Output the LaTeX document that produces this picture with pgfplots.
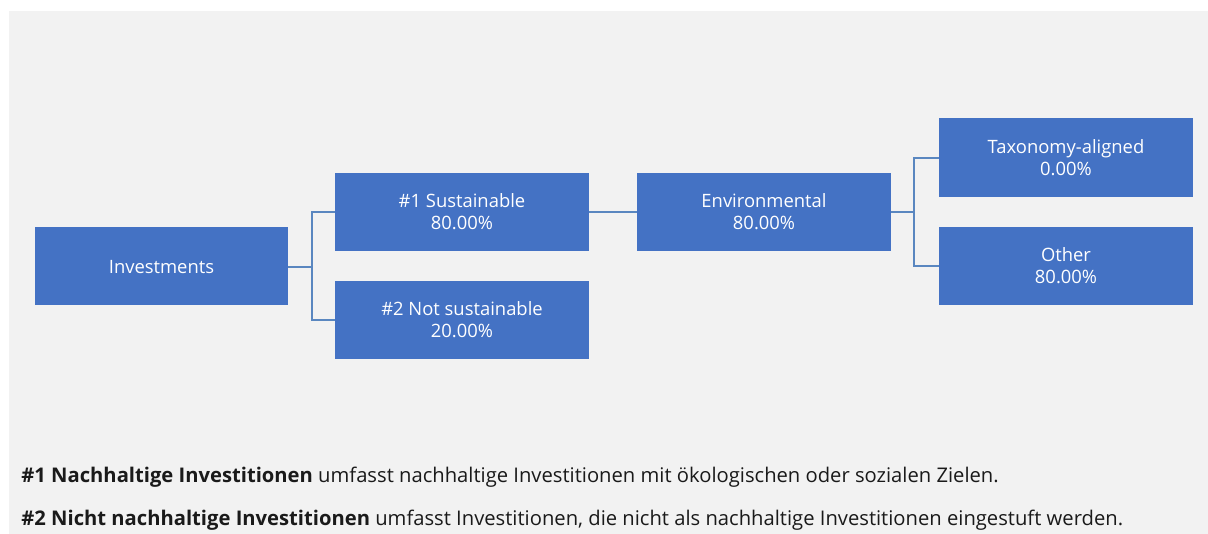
\documentclass[border=0pt]{standalone}
\usepackage{pgfplots}
\pgfplotsset{compat=1.18}
\usepackage{fontspec}
\setmainfont{Open Sans}
\definecolor{bg}{HTML}{F2F2F2}
\definecolor{boxc}{HTML}{4472C4}
\definecolor{linec}{HTML}{5A87C0}
\definecolor{txt}{HTML}{1A1A1A}
% box: x1 x2 y1 y2 (pixel rows from top)
\newcommand{\bx}[4]{\addplot[fill=boxc, draw=none] coordinates {(#1,#3) (#2,#3) (#2,#4) (#1,#4)} -- cycle;}
\newcommand{\lbl}[3]{\addplot[draw=none, mark=none, nodes near coords={#3},
  every node near coord/.append style={anchor=center, align=center, text=white,
  font=\fontsize{9.2pt}{11pt}\selectfont, inner sep=0pt}] coordinates {(#1,#2)};}
\begin{document}
\begin{tikzpicture}
\begin{axis}[
  scale only axis, width=604pt, height=267pt,
  xmin=0, xmax=1208, ymin=0, ymax=534, y dir=reverse,
  hide axis,
]
% full canvas (white margin)
\addplot[fill=white, draw=none] coordinates {(0,0) (1208,0) (1208,534) (0,534)} -- cycle;
% background
\addplot[fill=bg, draw=none] coordinates {(9,11) (1208,11) (1208,534) (9,534)} -- cycle;
% connectors
\addplot[linec, line width=1pt, mark=none] coordinates {(288,267) (312,267)};
\addplot[linec, line width=1pt, mark=none] coordinates {(335,212) (312,212) (312,320) (335,320)};
\addplot[linec, line width=1pt, mark=none] coordinates {(589,212) (637,212)};
\addplot[linec, line width=1pt, mark=none] coordinates {(891,212) (914,212)};
\addplot[linec, line width=1pt, mark=none] coordinates {(939,158) (914,158) (914,266) (939,266)};
% boxes
\bx{35}{288}{227}{305}
\bx{335}{589}{173}{251}
\bx{335}{589}{281}{359}
\bx{637}{891}{173}{251}
\bx{939}{1193}{118}{197}
\bx{939}{1193}{227}{305}
% labels
\lbl{161.5}{267}{Investments}
\lbl{462}{212}{\#1 Sustainable\\80.00\%}
\lbl{462}{320}{\#2 Not sustainable\\20.00\%}
\lbl{764}{212}{Environmental\\80.00\%}
\lbl{1066}{157.5}{Taxonomy-aligned\\0.00\%}
\lbl{1066}{266}{Other\\80.00\%}
% footnotes
\node[anchor=west, inner sep=0pt, text=txt, font=\fontsize{10.1pt}{12pt}\selectfont] at (axis cs:21,477)
  {\textbf{\#1 Nachhaltige Investitionen} umfasst nachhaltige Investitionen mit ökologischen oder sozialen Zielen.};
\node[anchor=west, inner sep=0pt, text=txt, font=\fontsize{10.1pt}{12pt}\selectfont] at (axis cs:21,520)
  {\textbf{\#2 Nicht nachhaltige Investitionen} umfasst Investitionen, die nicht als nachhaltige Investitionen eingestuft werden.};
\end{axis}
\end{tikzpicture}
\end{document}
